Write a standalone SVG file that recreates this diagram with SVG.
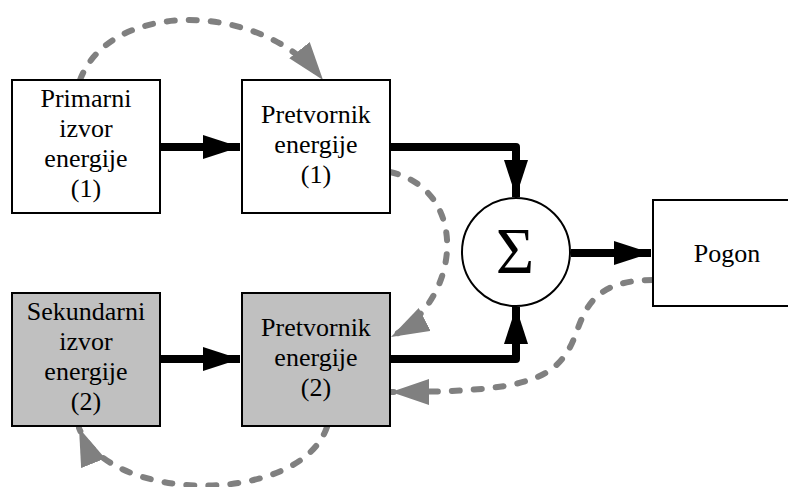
<svg xmlns="http://www.w3.org/2000/svg" width="788" height="487" viewBox="0 0 788 487">
<style>
.box{stroke:#000;stroke-width:2}
.w{fill:#fff}
.g{fill:#c0c0c0}
.t{font-family:'Liberation Serif','DejaVu Serif',serif;font-size:26px;fill:#000;text-anchor:middle}
.flow{fill:none;stroke:#000;stroke-width:8;stroke-linejoin:round}
.fb{fill:none;stroke:#808080;stroke-width:6;stroke-linecap:round;stroke-dasharray:8 14}
</style>
<defs>
<marker id="ab" markerUnits="userSpaceOnUse" markerWidth="40" markerHeight="26" refX="37" refY="12" orient="auto">
<path d="M0,0 L37,12 L0,24 Z" fill="#000"/>
</marker>
<marker id="ag" markerUnits="userSpaceOnUse" markerWidth="40" markerHeight="28" refX="38" refY="13" orient="auto">
<path d="M0,0 L38,13 L0,26 Z" fill="#808080"/>
</marker>
</defs>
<rect width="788" height="487" fill="#fff"/>
<g id="connectors">
<path class="flow" d="M160,147 H240" marker-end="url(#ab)"/>
<path class="flow" d="M160,359 H240" marker-end="url(#ab)"/>
<path class="flow" d="M390,147 H516 V197" marker-end="url(#ab)"/>
<path class="flow" d="M390,359 H516 V307" marker-end="url(#ab)"/>
<path class="flow" d="M571,253 H651" marker-end="url(#ab)"/>
<path class="fb" d="M80,80 C110,0 260,0 323,80" marker-end="url(#ag)"/>
<path class="fb" d="M390,172 C470,190 462,300 391,337" marker-end="url(#ag)"/>
<path class="fb" d="M653,280 C575,280 585,330 565,355 C545,385 500,392 391,392" marker-end="url(#ag)"/>
<path class="fb" d="M327,427 C300,505 110,505 79,428" marker-end="url(#ag)"/>
</g>
<g id="primarni">
<rect class="box w" x="12" y="80" width="148" height="133"/>
<text class="t" x="86" y="107">Primarni</text>
<text class="t" x="86" y="137">izvor</text>
<text class="t" x="86" y="167">energije</text>
<text class="t" x="86" y="197">(1)</text>
</g>
<g id="pretvornik1">
<rect class="box w" x="242" y="80" width="148" height="133"/>
<text class="t" x="316" y="123">Pretvornik</text>
<text class="t" x="316" y="153">energije</text>
<text class="t" x="316" y="183">(1)</text>
</g>
<g id="sekundarni">
<rect class="box g" x="12" y="293" width="148" height="133"/>
<text class="t" x="86" y="320">Sekundarni</text>
<text class="t" x="86" y="350">izvor</text>
<text class="t" x="86" y="380">energije</text>
<text class="t" x="86" y="410">(2)</text>
</g>
<g id="pretvornik2">
<rect class="box g" x="242" y="293" width="148" height="133"/>
<text class="t" x="316" y="336">Pretvornik</text>
<text class="t" x="316" y="366">energije</text>
<text class="t" x="316" y="396">(2)</text>
</g>
<g id="suma">
<circle class="box w" cx="516" cy="252" r="54"/>
<text class="t" x="515" y="273" style="font-size:66px">Σ</text>
</g>
<g id="pogon">
<rect class="box w" x="653" y="200" width="148" height="106"/>
<text class="t" x="727" y="262">Pogon</text>
</g>
</svg>
